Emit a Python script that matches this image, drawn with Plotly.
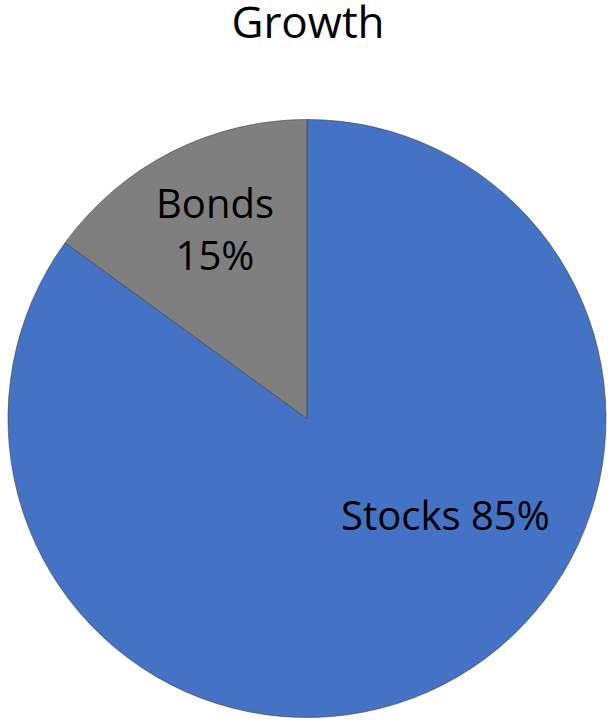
import plotly.graph_objects as go

categories = ["Stocks", "Bonds"]
values = [85, 15]
colors = ["#4472C4", "#7F7F7F"]
label_text = ["Stocks 85%", "Bonds<br>15%"]

fig = go.Figure()
fig.add_trace(go.Pie(
    labels=categories,
    values=values,
    sort=False,
    direction="clockwise",
    rotation=0,
    marker=dict(colors=colors, line=dict(color="#3f3f3f", width=0.6)),
    textinfo="none",
    hoverinfo="label+percent",
    showlegend=False,
    domain=dict(x=[0, 1], y=[0, 1]),
))

# label positions (paper coords)
label_pos = [(0.731, 0.339), (0.346, 0.818)]
for txt, (x, y) in zip(label_text, label_pos):
    fig.add_annotation(text=txt, x=x, y=y, xref="paper", yref="paper",
                       xanchor="center", yanchor="middle",
                       showarrow=False, font=dict(size=40, color="#000000", family="Open Sans"))

fig.update_layout(
    width=616, height=726,
    margin=dict(l=8, r=10, t=119, b=8),
    paper_bgcolor="white",
    plot_bgcolor="white",
    title=dict(text="Growth", x=0.5, xanchor="center", y=1 - 23 / 726, yanchor="middle",
               yref="container", font=dict(size=44, color="#000000", family="Open Sans")),
)

fig.write_html("out.html", config={"displayModeBar": False},
               post_script="document.body.style.margin='0';")
